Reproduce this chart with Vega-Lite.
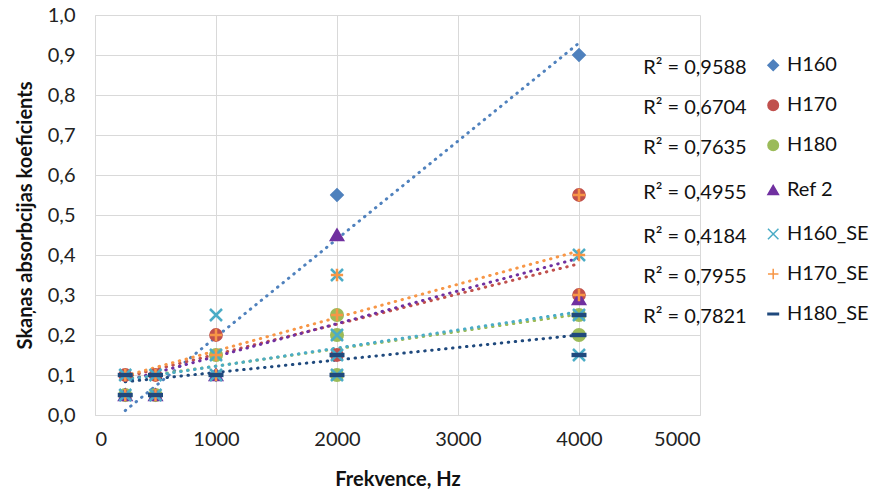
{
  "$schema": "https://vega.github.io/schema/vega-lite/v6.json",
  "width": 605,
  "height": 400,
  "autosize": {"type": "none"},
  "padding": {"left": 95, "top": 15, "right": 170, "bottom": 77},
  "background": "white",
  "config": {
    "font": "Lato",
    "view": {"stroke": null},
    "axis": {
      "grid": true,
      "gridColor": "#D9D9D9",
      "gridWidth": 1,
      "domainColor": "#D9D9D9",
      "domainWidth": 1,
      "ticks": false,
      "labelOverlap": false,
      "labelFontSize": 20,
      "labelColor": "#222222",
      "titleFontSize": 20,
      "titleFontWeight": "bold",
      "titleColor": "#111111"
    }
  },
  "datasets": {
    "pts": [
      {"s": "H160", "f": 250, "v": 0.05},
      {"s": "H160", "f": 500, "v": 0.05},
      {"s": "H160", "f": 1000, "v": 0.1},
      {"s": "H160", "f": 2000, "v": 0.55},
      {"s": "H160", "f": 4000, "v": 0.9},
      {"s": "H170", "f": 250, "v": 0.1},
      {"s": "H170", "f": 500, "v": 0.1},
      {"s": "H170", "f": 1000, "v": 0.2},
      {"s": "H170", "f": 2000, "v": 0.15},
      {"s": "H170", "f": 4000, "v": 0.55},
      {"s": "H170", "f": 4000, "v": 0.3},
      {"s": "H180", "f": 250, "v": 0.05},
      {"s": "H180", "f": 500, "v": 0.05},
      {"s": "H180", "f": 1000, "v": 0.15},
      {"s": "H180", "f": 2000, "v": 0.25},
      {"s": "H180", "f": 2000, "v": 0.2},
      {"s": "H180", "f": 2000, "v": 0.1},
      {"s": "H180", "f": 4000, "v": 0.25},
      {"s": "H180", "f": 4000, "v": 0.2},
      {"s": "Ref 2", "f": 250, "v": 0.05},
      {"s": "Ref 2", "f": 500, "v": 0.05},
      {"s": "Ref 2", "f": 1000, "v": 0.1},
      {"s": "Ref 2", "f": 2000, "v": 0.45},
      {"s": "Ref 2", "f": 4000, "v": 0.29},
      {"s": "H160_SE", "f": 250, "v": 0.1},
      {"s": "H160_SE", "f": 250, "v": 0.05},
      {"s": "H160_SE", "f": 500, "v": 0.1},
      {"s": "H160_SE", "f": 500, "v": 0.05},
      {"s": "H160_SE", "f": 1000, "v": 0.25},
      {"s": "H160_SE", "f": 1000, "v": 0.15},
      {"s": "H160_SE", "f": 1000, "v": 0.1},
      {"s": "H160_SE", "f": 2000, "v": 0.35},
      {"s": "H160_SE", "f": 2000, "v": 0.2},
      {"s": "H160_SE", "f": 2000, "v": 0.15},
      {"s": "H160_SE", "f": 2000, "v": 0.1},
      {"s": "H160_SE", "f": 4000, "v": 0.4},
      {"s": "H160_SE", "f": 4000, "v": 0.25},
      {"s": "H160_SE", "f": 4000, "v": 0.15},
      {"s": "H170_SE", "f": 250, "v": 0.1},
      {"s": "H170_SE", "f": 250, "v": 0.05},
      {"s": "H170_SE", "f": 500, "v": 0.1},
      {"s": "H170_SE", "f": 500, "v": 0.05},
      {"s": "H170_SE", "f": 1000, "v": 0.2},
      {"s": "H170_SE", "f": 1000, "v": 0.15},
      {"s": "H170_SE", "f": 1000, "v": 0.1},
      {"s": "H170_SE", "f": 2000, "v": 0.35},
      {"s": "H170_SE", "f": 2000, "v": 0.25},
      {"s": "H170_SE", "f": 4000, "v": 0.55},
      {"s": "H170_SE", "f": 4000, "v": 0.4},
      {"s": "H170_SE", "f": 4000, "v": 0.3},
      {"s": "H180_SE", "f": 250, "v": 0.1},
      {"s": "H180_SE", "f": 250, "v": 0.05},
      {"s": "H180_SE", "f": 500, "v": 0.1},
      {"s": "H180_SE", "f": 500, "v": 0.05},
      {"s": "H180_SE", "f": 1000, "v": 0.1},
      {"s": "H180_SE", "f": 2000, "v": 0.15},
      {"s": "H180_SE", "f": 2000, "v": 0.1},
      {"s": "H180_SE", "f": 4000, "v": 0.25},
      {"s": "H180_SE", "f": 4000, "v": 0.2},
      {"s": "H180_SE", "f": 4000, "v": 0.15}
    ],
    "trends": [
      {"s": "H160", "f": 250, "v": 0.011},
      {"s": "H160", "f": 4000, "v": 0.93},
      {"s": "H170", "f": 250, "v": 0.095},
      {"s": "H170", "f": 4000, "v": 0.378},
      {"s": "H180", "f": 250, "v": 0.09},
      {"s": "H180", "f": 4000, "v": 0.252},
      {"s": "Ref 2", "f": 250, "v": 0.085},
      {"s": "Ref 2", "f": 4000, "v": 0.392},
      {"s": "H160_SE", "f": 250, "v": 0.088},
      {"s": "H160_SE", "f": 4000, "v": 0.258},
      {"s": "H170_SE", "f": 250, "v": 0.098},
      {"s": "H170_SE", "f": 4000, "v": 0.41},
      {"s": "H180_SE", "f": 250, "v": 0.083},
      {"s": "H180_SE", "f": 4000, "v": 0.2}
    ],
    "r2": [
      {"s": "H160", "t": "R² = 0,9588", "f": 4530, "v": 0.867},
      {"s": "H170", "t": "R² = 0,6704", "f": 4530, "v": 0.767},
      {"s": "H180", "t": "R² = 0,7635", "f": 4530, "v": 0.667},
      {"s": "Ref 2", "t": "R² = 0,4955", "f": 4530, "v": 0.555},
      {"s": "H160_SE", "t": "R² = 0,4184", "f": 4530, "v": 0.445},
      {"s": "H170_SE", "t": "R² = 0,7955", "f": 4530, "v": 0.345},
      {"s": "H180_SE", "t": "R² = 0,7821", "f": 4530, "v": 0.245}
    ]
  },
  "encoding": {
    "x": {"field": "f", "type": "quantitative", "scale": {"domain": [0, 5000]}, "axis": {"values": [0, 1000, 2000, 3000, 4000, 5000], "format": "d", "title": "Frekvence, Hz", "labelPadding": 14, "titlePadding": 20, "labelOverlap": false}},
    "y": {"field": "v", "type": "quantitative", "scale": {"domain": [0, 1]}, "axis": {"values": [0, 0.1, 0.2, 0.3, 0.4, 0.5, 0.6, 0.7, 0.8, 0.9, 1], "labelExpr": "replace(format(datum.value, '.1f'), '.', ',')", "title": "Skaņas absorbcijas koeficients", "labelPadding": 20, "titlePadding": 12, "labelOverlap": false}}
  },
  "layer": [
    {
      "data": {"name": "trends"},
      "mark": {"type": "line", "strokeWidth": 3, "strokeDash": [0.5, 6.5], "strokeCap": "round"},
      "encoding": {
        "color": {"field": "s", "type": "nominal", "legend": null, "scale": {"domain": ["H160", "H170", "H180", "Ref 2", "H160_SE", "H170_SE", "H180_SE"], "range": ["#4F81BD", "#C0504D", "#9BBB59", "#7030A0", "#4BACC6", "#F79646", "#1F497D"]}},
        "detail": {"field": "s"}
      }
    },
    {
      "data": {"name": "pts"},
      "mark": {"type": "point", "strokeWidth": 2.5, "opacity": 1},
      "encoding": {
        "shape": {"field": "s", "type": "nominal", "legend": null, "scale": {"domain": ["H160", "H170", "H180", "Ref 2", "H160_SE", "H170_SE", "H180_SE"], "range": ["diamond", "circle", "circle", "triangle-up", "M-1,-1L1,1M1,-1L-1,1", "M-1,0L1,0M0,-1L0,1", "M-1,-0.15L1,-0.15L1,0.15L-1,0.15Z"]}},
        "fill": {"field": "s", "type": "nominal", "legend": null, "scale": {"domain": ["H160", "H170", "H180", "Ref 2", "H160_SE", "H170_SE", "H180_SE"], "range": ["#4F81BD", "#C0504D", "#9BBB59", "#7030A0", "transparent", "transparent", "#1F497D"]}},
        "stroke": {"field": "s", "type": "nominal", "legend": null, "scale": {"domain": ["H160", "H170", "H180", "Ref 2", "H160_SE", "H170_SE", "H180_SE"], "range": ["#4F81BD", "#C0504D", "#9BBB59", "#7030A0", "#4BACC6", "#F79646", "#1F497D"]}},
        "size": {"field": "s", "type": "nominal", "legend": null, "scale": {"domain": ["H160", "H170", "H180", "Ref 2", "H160_SE", "H170_SE", "H180_SE"], "range": [121, 156, 156, 132, 342, 240, 121]}}
      }
    },
    {
      "data": {"name": "r2"},
      "mark": {"type": "text", "align": "left", "baseline": "middle", "fontSize": 20, "color": "#111111"},
      "encoding": {
        "text": {"field": "t"}
      }
    },
    {
      "data": {"name": "r2"},
      "mark": {"type": "point", "strokeWidth": 1.5, "opacity": 1, "size": 110, "yOffset": -3},
      "encoding": {
        "x": {"datum": 5605, "type": "quantitative"},
        "shape": {"field": "s", "type": "nominal", "legend": null},
        "fill": {"field": "s", "type": "nominal", "legend": null},
        "stroke": {"field": "s", "type": "nominal", "legend": null}
      }
    },
    {
      "data": {"name": "r2"},
      "mark": {"type": "text", "align": "left", "baseline": "middle", "fontSize": 20, "color": "#111111", "yOffset": -3},
      "encoding": {
        "x": {"datum": 5718, "type": "quantitative"},
        "text": {"field": "s"}
      }
    }
  ]
}
